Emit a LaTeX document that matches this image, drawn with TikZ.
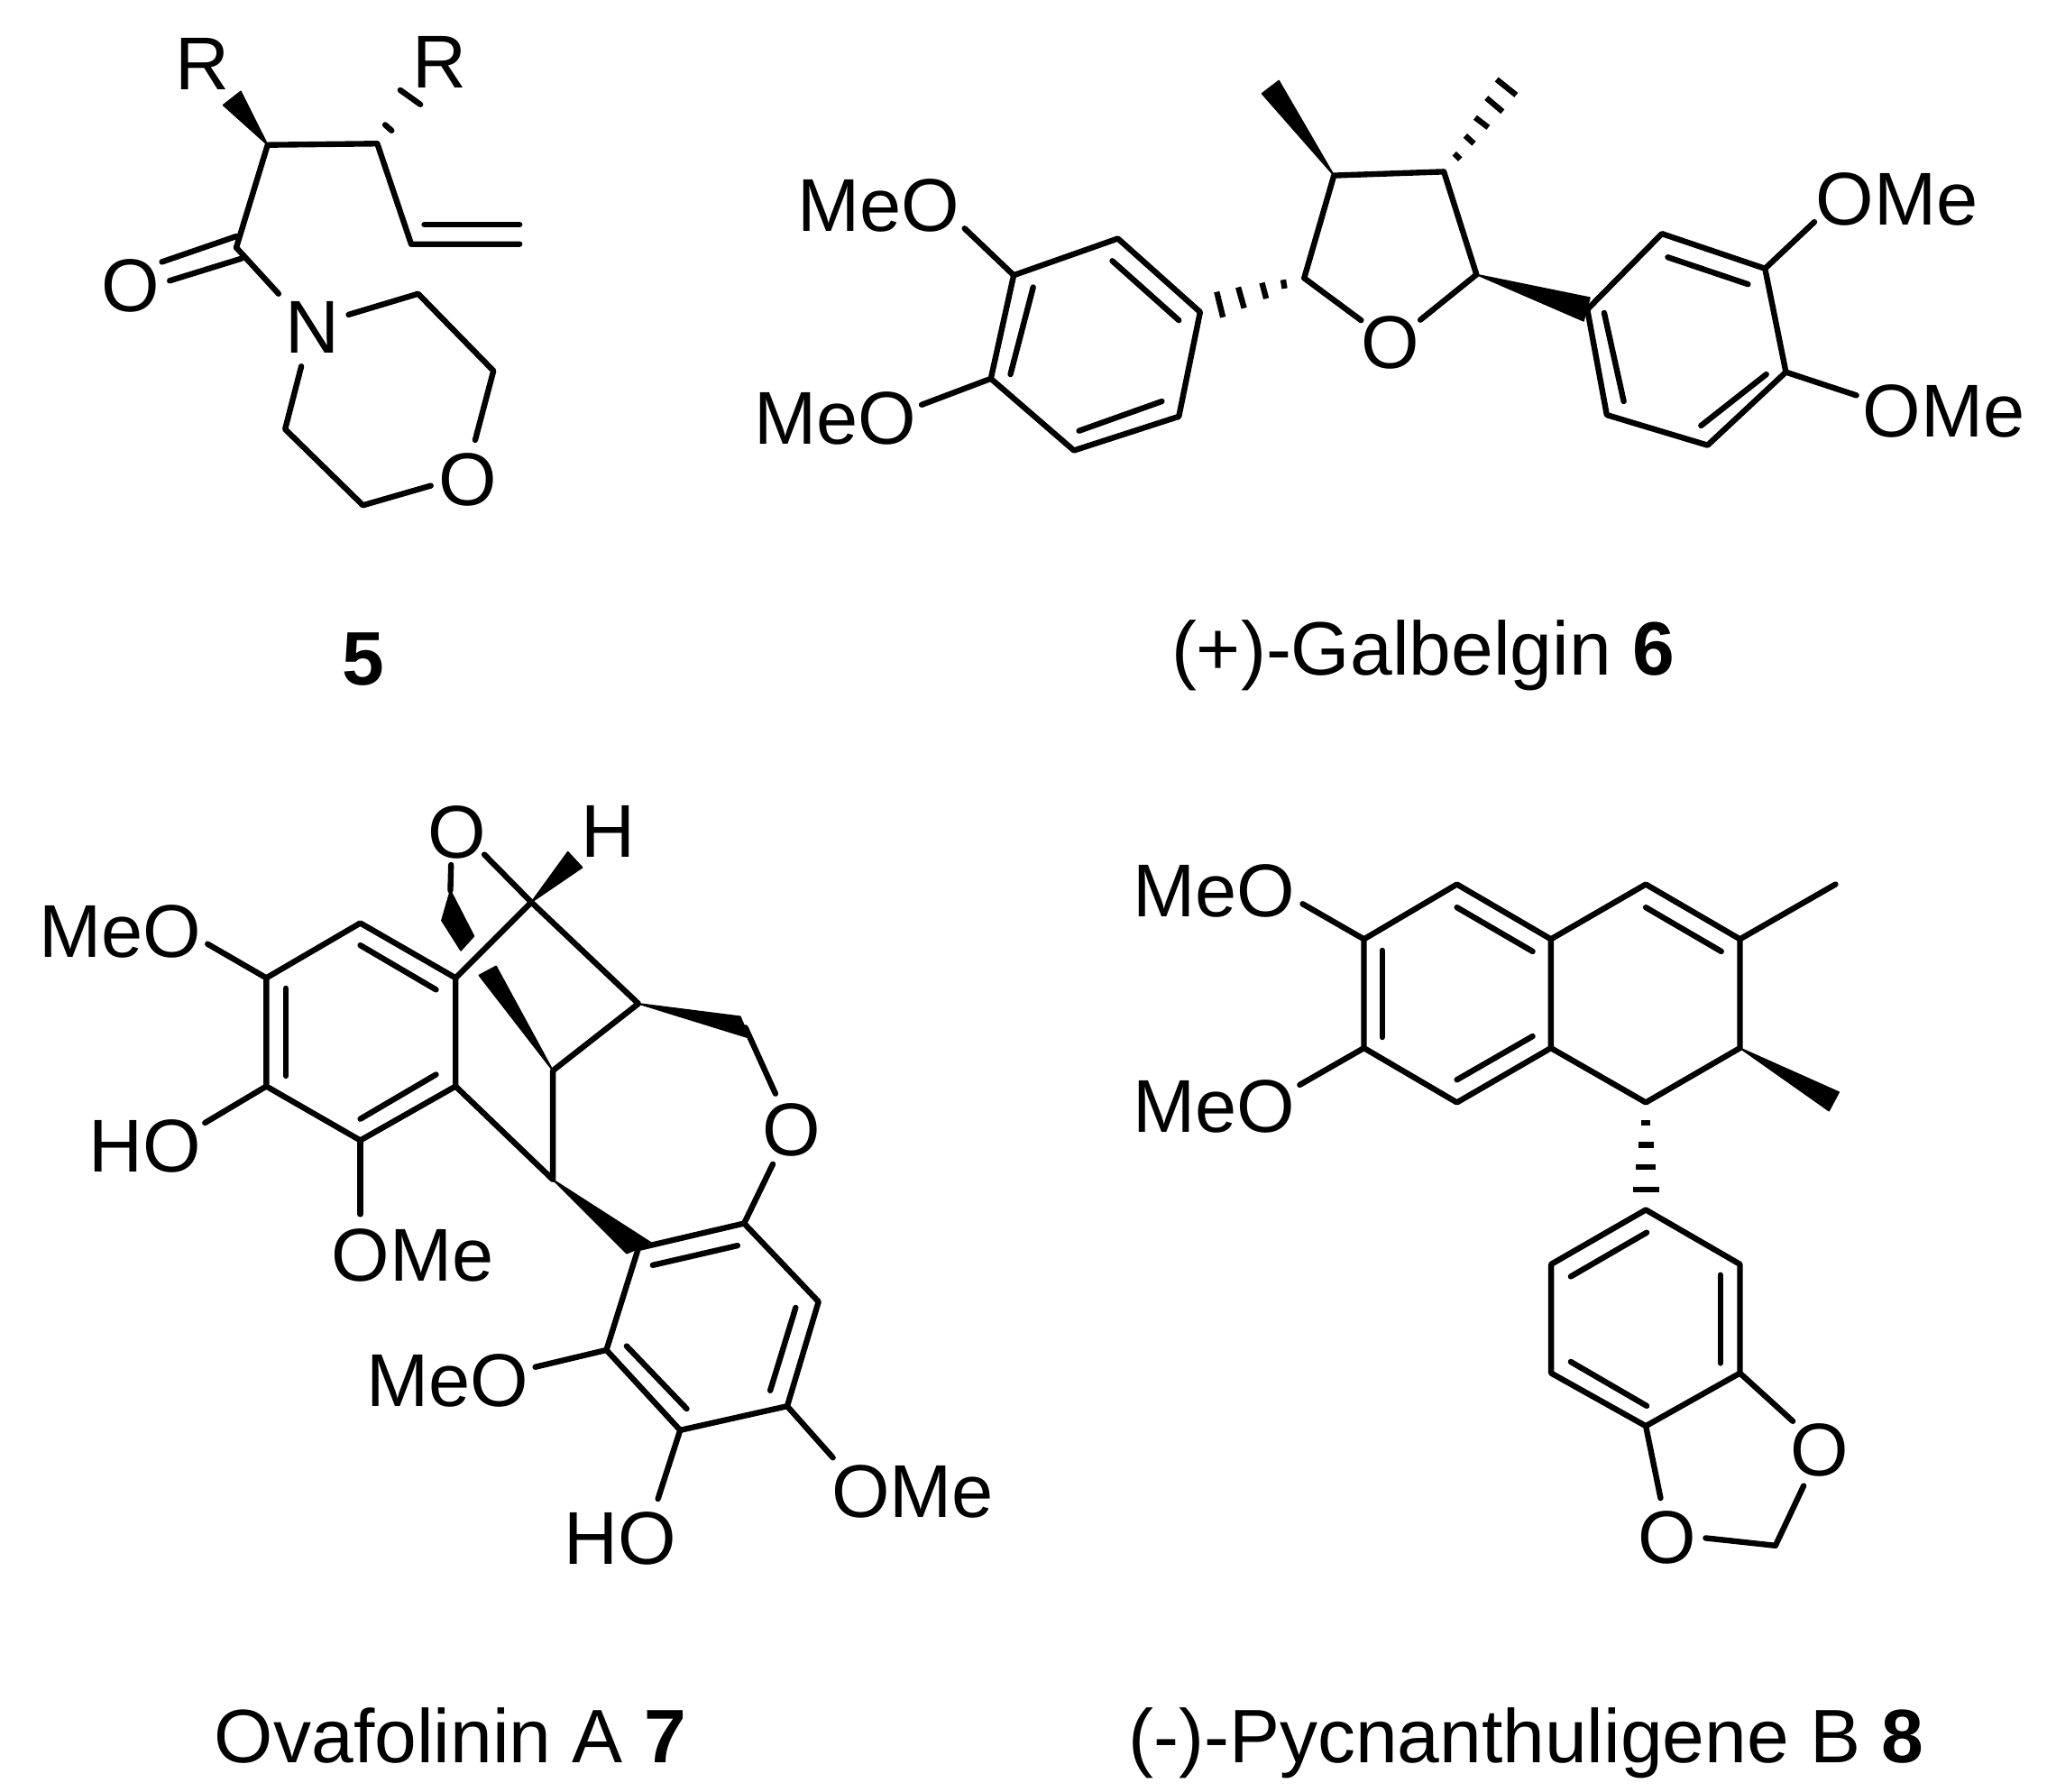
\documentclass[tikz,border=0pt]{standalone}
\usepackage{fontspec}
\setmainfont{Liberation Sans}
\newcommand{\cpt}[2]{\coordinate (#1) at (#2);}
\tikzset{
  bond/.style={line width=1.25pt,line cap=round,line join=round},
  hashline/.style={line width=1.25pt,line cap=butt},
  wedgebond/.style={fill=black,draw=black,line width=0.3pt,line join=round},
  atomlabel/.style={inner sep=0pt,font=\fontsize{16.3}{18}\selectfont,text height=11.6pt,text depth=0pt},
  captionlabel/.style={inner sep=0pt,font=\fontsize{16.5}{18}\selectfont,text height=11.8pt,text depth=0pt}
}
\begin{document}
\begin{tikzpicture}[x=0.01cm,y=-0.01cm]
\fill[white] (0,0) rectangle (1568,1372);
\useasboundingbox (0,0) rectangle (1568,1372);

% ---------- compound 5
\node[atomlabel] (r1) at (155,48) {R};
\node[atomlabel] (r2) at (337,47) {R};
\node[atomlabel] (o5a) at (100,218) {O};
\node[atomlabel] (n5) at (239,250) {N};
\node[atomlabel] (o5b) at (358,367) {O};
\node[captionlabel] (cap5) at (278,504) {\textbf{5}};
\cpt{ca}{205,111}\cpt{cb}{289,110}\cpt{cv}{315,187}\cpt{cvend}{398,187}
\cpt{cvi}{325,172}\cpt{cviend}{398,172}
\cpt{cco}{181,189.6}\cpt{do1}{181,181}\cpt{do1e}{124,200.6}\cpt{do2}{185,198}\cpt{do2e}{130,215}
\cpt{nin}{213.4,225}\cpt{ne}{267,241}\cpt{m1}{320.3,225}\cpt{m2}{378,284}\cpt{m2e}{364,337}
\cpt{oe}{330,372}\cpt{m3}{278,387}\cpt{m4}{218.4,328.7}\cpt{m4e}{230.8,280.6}
\cpt{w5a}{184.4,70}\cpt{w5b}{171,80.5}
\fill[wedgebond] (ca) -- (w5a) -- (w5b) -- cycle;
\draw[bond] (cco) -- (ca) -- (cb) -- (cv) -- (cvend);
\draw[bond] (cvi) -- (cviend);
\draw[bond] (do1) -- (do1e);
\draw[bond] (do2) -- (do2e);
\draw[bond] (cco) -- (nin);
\draw[bond] (ne) -- (m1) -- (m2) -- (m2e);
\draw[bond] (oe) -- (m3) -- (m4) -- (m4e);
\draw[bond] (295,95.6) -- (300,100);
\draw[bond] (306.6,69) -- (322,80);

% ---------- compound 6
\node[atomlabel] (ml1) at (673,157) {MeO};
\node[atomlabel] (ml2) at (640,320) {MeO};
\node[atomlabel] (or1) at (1453,152) {OMe};
\node[atomlabel] (or2) at (1489,314) {OMe};
\node[atomlabel] (o6) at (1065,262) {O};
\node[captionlabel] (cap6) at (1090,496) {(+)-Galbelgin \textbf{6}};
\cpt{t1}{1021.8,134.4}\cpt{t2}{1106,131.5}\cpt{t3}{1131,210.3}\cpt{t4}{999,213}
\cpt{t4o}{1042.6,245.3}\cpt{t3o}{1088,245}
\cpt{w6a}{979.6,61.8}\cpt{w6b}{966.7,71.7}
\cpt{c1}{919.3,239}\cpt{c2}{856.3,182.7}\cpt{c3}{776.5,210.8}\cpt{c4}{759,290}\cpt{c5}{822.6,345}\cpt{c6}{903,319}
\cpt{c12a}{903,245.3}\cpt{c12b}{852,199.8}\cpt{c34a}{791.4,220}\cpt{c34b}{774,286.7}\cpt{c56a}{826.5,330}\cpt{c56b}{890,307.4}
\cpt{c3o}{738.9,175}\cpt{c4o}{706,310}
\cpt{d1}{1215.9,237}\cpt{d2}{1273,179}\cpt{d3}{1352,205.7}\cpt{d4}{1368,285}\cpt{d5}{1308,341}\cpt{d6}{1230.8,317.8}
\cpt{d23a}{1277.5,197}\cpt{d23b}{1339,217.7}\cpt{d45a}{1353,286.7}\cpt{d45b}{1303,326}\cpt{d61a}{1243.8,307.4}\cpt{d61b}{1228.8,239.6}
\cpt{d3o}{1389.8,170}\cpt{d4o}{1422,302.8}
\cpt{w6c}{1217.8,228}\cpt{w6d}{1213,245.8}
\fill[wedgebond] (t1) -- (w6a) -- (w6b) -- cycle;
\fill[wedgebond] (t3) -- (w6c) -- (w6d) -- cycle;
\draw[bond] (t4o) -- (t4) -- (t1) -- (t2) -- (t3) -- (t3o);
\draw[bond] (c1) -- (c2) -- (c3) -- (c4) -- (c5) -- (c6) -- cycle;
\draw[bond] (c12a) -- (c12b);
\draw[bond] (c34a) -- (c34b);
\draw[bond] (c56a) -- (c56b);
\draw[bond] (c3) -- (c3o);
\draw[bond] (c4) -- (c4o);
\draw[bond] (d1) -- (d2) -- (d3) -- (d4) -- (d5) -- (d6) -- cycle;
\draw[bond] (d23a) -- (d23b);
\draw[bond] (d45a) -- (d45b);
\draw[bond] (d61a) -- (d61b);
\draw[bond] (d3) -- (d3o);
\draw[bond] (d4) -- (d4o);
\foreach \xa/\ya/\xb/\yb in {1114/117.6/1118.5/122,1122.4/103.9/1129/110,1130/90/1140/97.6,1138.6/75/1151/85.5,1146.4/60.8/1161.4/72.8,
  982.9/214.3/984/221,966.7/216.6/969.9/228.7,948.5/220/953/236,932/223.5/936.8/243}
  \draw[hashline] (\xa,\ya) -- (\xb,\yb);

% ---------- compound 7
\node[atomlabel] (m7a) at (92,713) {MeO};
\node[atomlabel] (h7a) at (111,877) {HO};
\node[atomlabel] (o7a) at (316,961) {OMe};
\node[atomlabel] (o7b) at (350,637) {O};
\node[atomlabel] (h7h) at (466,636) {H};
\node[atomlabel] (o7c) at (606,865) {O};
\node[atomlabel] (m7b) at (343,1057) {MeO};
\node[atomlabel] (h7b) at (475,1178) {HO};
\node[atomlabel] (o7d) at (699,1142) {OMe};
\node[captionlabel] (cap7) at (345,1329) {Ovafolinin A \textbf{7}};
\cpt{a1}{204,749}\cpt{a2}{276,707}\cpt{a3}{349,749}\cpt{a4}{349,832}\cpt{a5}{276,873.4}\cpt{a6}{204,832}
\cpt{a16a}{219,757}\cpt{a16b}{219,824}\cpt{a23a}{276,724}\cpt{a23b}{334,758}\cpt{a45a}{334,823}\cpt{a45b}{276,857}
\cpt{a1o}{159,723}\cpt{a6o}{157,860}\cpt{a5o}{276,930}
\cpt{k1}{407,691}\cpt{k1o}{371,654.5}\cpt{k2}{489,768.7}\cpt{k3}{423.5,820}\cpt{k4}{423.5,903.5}
\cpt{wh1}{435,652.5}\cpt{wh2}{446,664.4}
\cpt{wk1}{367,747}\cpt{wk2}{380,740}
\cpt{wt}{345,682}\cpt{wu1}{363,717}\cpt{wu2}{353,728}\cpt{wu3}{338.4,705}\cpt{wo}{345.5,662.4}
\cpt{wm1}{567,778.6}\cpt{wm2}{574,795}\cpt{wmc}{571,787}\cpt{wmo}{594,837.7}
\cpt{ob}{592,891.6}
\cpt{b1}{489,956}\cpt{b2}{570,937}\cpt{b3}{627,997}\cpt{b4}{603,1077}\cpt{b5}{521,1095.4}\cpt{b6}{464.5,1034}
\cpt{wb1}{499,952}\cpt{wb2}{480,960}
\cpt{b12a}{500,969}\cpt{b12b}{565,954}\cpt{b34a}{609.5,1001.5}\cpt{b34b}{590,1065}\cpt{b56a}{526,1079}\cpt{b56b}{480,1031}
\cpt{b6o}{410,1047}\cpt{b5o}{504,1148}\cpt{b4o}{638,1116.4}
\fill[wedgebond] (k1) -- (wh1) -- (wh2) -- cycle;
\fill[wedgebond] (k3) -- (wk1) -- (wk2) -- cycle;
\fill[wedgebond] (wt) -- (wu1) -- (wu2) -- (wu3) -- cycle;
\fill[wedgebond] (k2) -- (wm1) -- (wm2) -- cycle;
\fill[wedgebond] (k4) -- (wb1) -- (wb2) -- cycle;
\draw[bond] (a1) -- (a2) -- (a3) -- (a4) -- (a5) -- (a6) -- cycle;
\draw[bond] (a16a) -- (a16b);
\draw[bond] (a23a) -- (a23b);
\draw[bond] (a45a) -- (a45b);
\draw[bond] (a1) -- (a1o);
\draw[bond] (a6) -- (a6o);
\draw[bond] (a5) -- (a5o);
\draw[bond] (a3) -- (k1) -- (k1o);
\draw[bond] (k1) -- (k2) -- (k3) -- (k4) -- (a4);
\draw[bond] (wt) -- (wo);
\draw[bond] (wmc) -- (wmo);
\draw[bond] (ob) -- (b2);
\draw[bond] (b1) -- (b2) -- (b3) -- (b4) -- (b5) -- (b6) -- cycle;
\draw[bond] (b12a) -- (b12b);
\draw[bond] (b34a) -- (b34b);
\draw[bond] (b56a) -- (b56b);
\draw[bond] (b6) -- (b6o);
\draw[bond] (b5) -- (b5o);
\draw[bond] (b4) -- (b4o);

% ---------- compound 8
\node[atomlabel] (m8a) at (930,682) {MeO};
\node[atomlabel] (m8b) at (930,847) {MeO};
\node[atomlabel] (o8a) at (1394,1110) {O};
\node[atomlabel] (o8b) at (1277,1177) {O};
\node[captionlabel] (cap8) at (1169,1329) {(-)-Pycnanthuligene B \textbf{8}};
\cpt{e1}{1044.8,719.3}\cpt{e2}{1116,677.3}\cpt{e3}{1188,719.3}\cpt{e4}{1188,802.7}\cpt{e5}{1116,844.4}\cpt{e6}{1044.8,802.7}
\cpt{f1}{1260.7,677.3}\cpt{f2}{1332.8,719.3}\cpt{f3}{1332.8,802.7}\cpt{f4}{1260.7,844.4}
\cpt{fme}{1406,677.3}\cpt{fw1}{1408.6,836.5}\cpt{fw2}{1401,850.8}
\cpt{e16a}{1058.7,728}\cpt{e16b}{1058.7,794.4}\cpt{e23a}{1116,695}\cpt{e23b}{1174,728.7}\cpt{e45a}{1174,793.7}\cpt{e45b}{1116,827}
\cpt{f12a}{1260.7,695}\cpt{f12b}{1318.5,728.7}
\cpt{e1o}{997.8,692.3}\cpt{e6o}{995.6,830.9}
\cpt{g1}{1260.7,926.6}\cpt{g2}{1332.8,968.3}\cpt{g3}{1332.8,1051.7}\cpt{g4}{1260.7,1092.2}\cpt{g5}{1188.2,1051.7}\cpt{g6}{1188.2,968.3}
\cpt{g16a}{1261.4,944}\cpt{g16b}{1203.2,977.7}\cpt{g23a}{1317.8,976.5}\cpt{g23b}{1317.8,1044}\cpt{g45a}{1261.4,1076.8}\cpt{g45b}{1203.2,1043}
\cpt{g3o}{1373.3,1088.5}\cpt{g4o}{1272,1147.4}\cpt{o1e}{1381.6,1138}\cpt{ch2}{1360,1183.8}\cpt{o2e}{1306.5,1178}
\fill[wedgebond] (f3) -- (fw1) -- (fw2) -- cycle;
\draw[bond] (e1) -- (e2) -- (e3) -- (e4) -- (e5) -- (e6) -- cycle;
\draw[bond] (e3) -- (f1) -- (f2) -- (f3) -- (f4) -- (e4);
\draw[bond] (f2) -- (fme);
\draw[bond] (e16a) -- (e16b);
\draw[bond] (e23a) -- (e23b);
\draw[bond] (e45a) -- (e45b);
\draw[bond] (f12a) -- (f12b);
\draw[bond] (e1) -- (e1o);
\draw[bond] (e6) -- (e6o);
\draw[bond] (g1) -- (g2) -- (g3) -- (g4) -- (g5) -- (g6) -- cycle;
\draw[bond] (g16a) -- (g16b);
\draw[bond] (g23a) -- (g23b);
\draw[bond] (g45a) -- (g45b);
\draw[bond] (g3) -- (g3o);
\draw[bond] (g4) -- (g4o);
\draw[bond] (o1e) -- (ch2) -- (o2e);
\foreach \ya/\hw in {860/3.2,877/5.8,894/7.7,911.2/10}
  \draw[hashline] (1260.7-\hw,\ya) -- (1260.7+\hw,\ya);
\end{tikzpicture}
\end{document}
